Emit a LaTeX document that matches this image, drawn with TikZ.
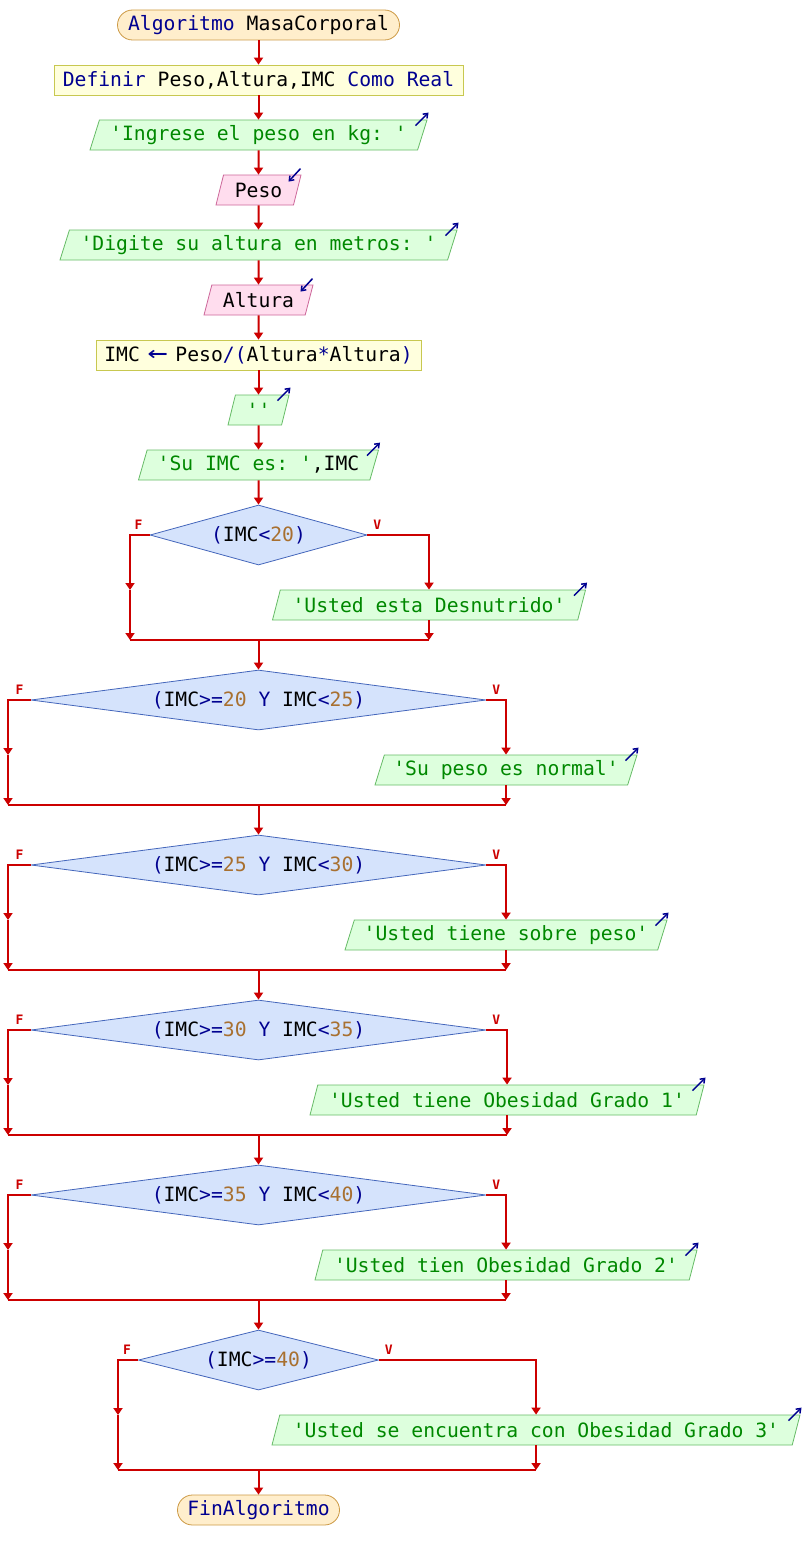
\documentclass[tikz,border=0pt]{standalone}
\usepackage{fontspec}
\usepackage{graphicx}
\setmonofont{DejaVu Sans Mono}
\usetikzlibrary{shapes.geometric,arrows.meta,calc}
\definecolor{flowred}{HTML}{CC0000}
\definecolor{kwblue}{HTML}{000090}
\definecolor{strgreen}{HTML}{008800}
\definecolor{numbrown}{HTML}{A87030}
\definecolor{termfill}{HTML}{FFEECC}
\definecolor{termdraw}{HTML}{CC9944}
\definecolor{procfill}{HTML}{FFFFDD}
\definecolor{procdraw}{HTML}{C8C850}
\definecolor{outfill}{HTML}{DDFFDD}
\definecolor{outdraw}{HTML}{66BB66}
\definecolor{infill}{HTML}{FFDDEE}
\definecolor{indraw}{HTML}{CC6699}
\definecolor{decfill}{HTML}{D5E3FC}
\definecolor{decdraw}{HTML}{4466BB}
\newcommand{\kw}[1]{\textcolor{kwblue}{#1}}
\newcommand{\st}[1]{\textcolor{strgreen}{#1}}
\newcommand{\nm}[1]{\textcolor{numbrown}{#1}}
\newcommand{\asgarrow}{\makebox[11.9pt]{\textcolor{kwblue}{\scalebox{1.7}[1.3]{←}}}}
\tikzset{
 base/.style={font=\ttfamily\fontsize{19.7}{22}\selectfont, minimum height=30pt, inner sep=2pt, line width=0.8pt},
 term/.style={base, rectangle, rounded corners=15pt, fill=termfill, draw=termdraw},
 proc/.style={base, rectangle, fill=procfill, draw=procdraw},
 outp/.style={base, trapezium, trapezium left angle=68, trapezium right angle=112, trapezium stretches body, fill=outfill, draw=outdraw},
 inp/.style={outp, fill=infill, draw=indraw},
 dec/.style={base, diamond, fill=decfill, draw=decdraw, inner sep=0pt},
 flow/.style={draw=flowred, line width=2pt, -{Triangle[length=7pt,width=9pt]}},
 fline/.style={draw=flowred, line width=2pt},
 lbl/.style={text=flowred, font=\ttfamily\bfseries\fontsize{13}{13}\selectfont, inner sep=0pt},
 icon/.style={draw=kwblue, line width=1.5pt, -{Straight Barb[length=4pt,width=6pt]}},
}
\begin{document}
\begin{tikzpicture}[x=1pt,y=-1pt]
\useasboundingbox (0,0) rectangle (804,1560);
% nodes
\node[term, minimum width=282pt] (start) at (258.5,25) {\kw{Algoritmo} MasaCorporal};
\node[proc, minimum width=409pt] (def) at (258.5,80) {\kw{Definir} Peso,Altura,IMC \kw{Como Real}};
\node[outp, minimum width=337pt] (oa) at (258.5,135) {\st{'Ingrese el peso en kg: '}};
\node[inp, minimum width=85pt] (ia) at (258.5,190) {Peso};
\node[outp, minimum width=397pt] (ob) at (258.5,245) {\st{'Digite su altura en metros: '}};
\node[inp, minimum width=109pt] (ib) at (258.5,300) {Altura};
\node[proc, minimum width=325pt] (asg) at (258.5,355) {IMC \asgarrow{} Peso\kw{/(}Altura\kw{*}Altura\kw{)}};
\node[outp, minimum width=61pt] (oc) at (258.5,410) {\st{''}};
\node[outp, minimum width=240pt] (od) at (258.5,465) {\st{'Su IMC es: '},IMC};

\node[dec, minimum width=217pt, minimum height=60pt, aspect=3.6] (d1) at (258.5,535) {\kw{(}IMC\kw{<}\nm{20}\kw{)}};
\node[outp, minimum width=313pt] (o1) at (429,605) {\st{'Usted esta Desnutrido'}};
\node[dec, minimum width=455pt, minimum height=60pt, aspect=7.6] (d2) at (258.5,700) {\kw{(}IMC\kw{>=}\nm{20} \kw{Y} IMC\kw{<}\nm{25}\kw{)}};
\node[outp, minimum width=262pt] (o2) at (506,770) {\st{'Su peso es normal'}};
\node[dec, minimum width=455pt, minimum height=60pt, aspect=7.6] (d3) at (258.5,865) {\kw{(}IMC\kw{>=}\nm{25} \kw{Y} IMC\kw{<}\nm{30}\kw{)}};
\node[outp, minimum width=322pt] (o3) at (506,935) {\st{'Usted tiene sobre peso'}};
\node[dec, minimum width=455pt, minimum height=60pt, aspect=7.6] (d4) at (258.5,1030) {\kw{(}IMC\kw{>=}\nm{30} \kw{Y} IMC\kw{<}\nm{35}\kw{)}};
\node[outp, minimum width=394pt] (o4) at (507,1100) {\st{'Usted tiene Obesidad Grado 1'}};
\node[dec, minimum width=455pt, minimum height=60pt, aspect=7.6] (d5) at (258.5,1195) {\kw{(}IMC\kw{>=}\nm{35} \kw{Y} IMC\kw{<}\nm{40}\kw{)}};
\node[outp, minimum width=382pt] (o5) at (506,1265) {\st{'Usted tien Obesidad Grado 2'}};
\node[dec, minimum width=240pt, minimum height=60pt, aspect=4] (d6) at (258.5,1360) {\kw{(}IMC\kw{>=}\nm{40}\kw{)}};
\node[outp, minimum width=528pt] (o6) at (536,1430) {\st{'Usted se encuentra con Obesidad Grado 3'}};
\node[term, minimum width=162pt] (fin) at (258.5,1510) {\kw{FinAlgoritmo}};

% sequential flow
\draw[flow] (start) -- (def);
\draw[flow] (def) -- (oa);
\draw[flow] (oa) -- (ia);
\draw[flow] (ia) -- (ob);
\draw[flow] (ob) -- (ib);
\draw[flow] (ib) -- (asg);
\draw[flow] (asg) -- (oc);
\draw[flow] (oc) -- (od);
\draw[flow] (od) -- (d1);

% branch coordinates
\coordinate (L1a) at (130,590);  \coordinate (L1b) at (130,640);
\coordinate (L2a) at (8,755);    \coordinate (L2b) at (8,805);
\coordinate (L3a) at (8,920);    \coordinate (L3b) at (8,970);
\coordinate (L4a) at (8,1085);   \coordinate (L4b) at (8,1135);
\coordinate (L5a) at (8,1250);   \coordinate (L5b) at (8,1300);
\coordinate (L6a) at (118,1415); \coordinate (L6b) at (118,1470);

% decision 1
\draw[flow] (d1.west) -| (L1a);
\draw[flow] (L1a) -- (L1b);
\draw[flow] (d1.east) -| (o1.north);
\draw[flow] (o1.south) -- (o1.south |- L1b);
\draw[fline] (L1b) -- (o1.south |- L1b);
\draw[flow] (d1.south |- L1b) -- (d2.north);
% decision 2
\draw[flow] (d2.west) -| (L2a);
\draw[flow] (L2a) -- (L2b);
\draw[flow] (d2.east) -| (o2.north);
\draw[flow] (o2.south) -- (o2.south |- L2b);
\draw[fline] (L2b) -- (o2.south |- L2b);
\draw[flow] (d2.south |- L2b) -- (d3.north);
% decision 3
\draw[flow] (d3.west) -| (L3a);
\draw[flow] (L3a) -- (L3b);
\draw[flow] (d3.east) -| (o3.north);
\draw[flow] (o3.south) -- (o3.south |- L3b);
\draw[fline] (L3b) -- (o3.south |- L3b);
\draw[flow] (d3.south |- L3b) -- (d4.north);
% decision 4
\draw[flow] (d4.west) -| (L4a);
\draw[flow] (L4a) -- (L4b);
\draw[flow] (d4.east) -| (o4.north);
\draw[flow] (o4.south) -- (o4.south |- L4b);
\draw[fline] (L4b) -- (o4.south |- L4b);
\draw[flow] (d4.south |- L4b) -- (d5.north);
% decision 5
\draw[flow] (d5.west) -| (L5a);
\draw[flow] (L5a) -- (L5b);
\draw[flow] (d5.east) -| (o5.north);
\draw[flow] (o5.south) -- (o5.south |- L5b);
\draw[fline] (L5b) -- (o5.south |- L5b);
\draw[flow] (d5.south |- L5b) -- (d6.north);
% decision 6
\draw[flow] (d6.west) -| (L6a);
\draw[flow] (L6a) -- (L6b);
\draw[flow] (d6.east) -| (o6.north);
\draw[flow] (o6.south) -- (o6.south |- L6b);
\draw[fline] (L6b) -- (o6.south |- L6b);
\draw[flow] (d6.south |- L6b) -- (fin.north);

% F / V labels
\foreach \d in {d1,d2,d3,d4,d5,d6}{
  \node[lbl] (F\d) at ($(\d.west)+(-11,-10)$) {F};
  \node[lbl] (V\d) at ($(\d.east)+(10,-10)$) {V};
}

% output icons
\foreach \o in {oa,ob,oc,od,o1,o2,o3,o4,o5,o6}{
  \draw[icon] ($(\o.top right corner)+(-12,6)$) -- ($(\o.top right corner)+(1,-7)$);
}
% input icons
\foreach \i in {ia,ib}{
  \draw[icon] ($(\i.top right corner)+(-1,-6)$) -- ($(\i.top right corner)+(-13,7)$);
}
\end{tikzpicture}
\end{document}
